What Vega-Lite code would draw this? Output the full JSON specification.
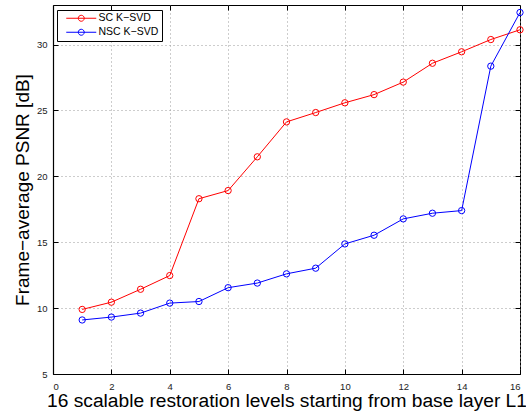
{
  "$schema": "https://vega.github.io/schema/vega-lite/v6.json",
  "autosize": {"type": "none"},
  "width": 467,
  "height": 369,
  "padding": {"left": 53, "top": 5, "right": 6, "bottom": 42},
  "background": "white",
  "config": {
    "font": "Liberation Sans",
    "view": {"stroke": "black", "strokeWidth": 1},
    "axis": {
      "domainColor": "black",
      "domainWidth": 1.2,
      "tickColor": "black",
      "tickSize": -5,
      "labelColor": "#222222",
      "labelFontSize": 9.5,
      "labelFont": "Liberation Sans",
      "titleFont": "Liberation Sans",
      "titleColor": "black",
      "titleFontWeight": "normal",
      "gridColor": "#9a9a9a",
      "gridDash": [1, 3],
      "gridWidth": 1,
      "gridOpacity": 1
    }
  },
  "data": {
    "values": [
      {"level": 1, "psnr": 9.9, "method": "SC K−SVD"},
      {"level": 2, "psnr": 10.45, "method": "SC K−SVD"},
      {"level": 3, "psnr": 11.43, "method": "SC K−SVD"},
      {"level": 4, "psnr": 12.47, "method": "SC K−SVD"},
      {"level": 5, "psnr": 18.3, "method": "SC K−SVD"},
      {"level": 6, "psnr": 18.92, "method": "SC K−SVD"},
      {"level": 7, "psnr": 21.48, "method": "SC K−SVD"},
      {"level": 8, "psnr": 24.13, "method": "SC K−SVD"},
      {"level": 9, "psnr": 24.84, "method": "SC K−SVD"},
      {"level": 10, "psnr": 25.58, "method": "SC K−SVD"},
      {"level": 11, "psnr": 26.2, "method": "SC K−SVD"},
      {"level": 12, "psnr": 27.15, "method": "SC K−SVD"},
      {"level": 13, "psnr": 28.58, "method": "SC K−SVD"},
      {"level": 14, "psnr": 29.45, "method": "SC K−SVD"},
      {"level": 15, "psnr": 30.38, "method": "SC K−SVD"},
      {"level": 16, "psnr": 31.12, "method": "SC K−SVD"},
      {"level": 1, "psnr": 9.1, "method": "NSC K−SVD"},
      {"level": 2, "psnr": 9.32, "method": "NSC K−SVD"},
      {"level": 3, "psnr": 9.62, "method": "NSC K−SVD"},
      {"level": 4, "psnr": 10.38, "method": "NSC K−SVD"},
      {"level": 5, "psnr": 10.5, "method": "NSC K−SVD"},
      {"level": 6, "psnr": 11.55, "method": "NSC K−SVD"},
      {"level": 7, "psnr": 11.9, "method": "NSC K−SVD"},
      {"level": 8, "psnr": 12.6, "method": "NSC K−SVD"},
      {"level": 9, "psnr": 13.03, "method": "NSC K−SVD"},
      {"level": 10, "psnr": 14.87, "method": "NSC K−SVD"},
      {"level": 11, "psnr": 15.53, "method": "NSC K−SVD"},
      {"level": 12, "psnr": 16.77, "method": "NSC K−SVD"},
      {"level": 13, "psnr": 17.2, "method": "NSC K−SVD"},
      {"level": 14, "psnr": 17.4, "method": "NSC K−SVD"},
      {"level": 15, "psnr": 28.36, "method": "NSC K−SVD"},
      {"level": 16, "psnr": 32.43, "method": "NSC K−SVD"}
    ]
  },
  "layer": [
    {
      "mark": {"type": "line", "strokeWidth": 1, "clip": false},
      "encoding": {
        "x": {
          "field": "level", "type": "quantitative",
          "scale": {"domain": [0, 16], "nice": false},
          "axis": {
            "orient": "bottom",
            "values": [0, 2, 4, 6, 8, 10, 12, 14, 16],
            "title": "16 scalable restoration levels starting from base layer L1",
            "titleFontSize": 19.2,
            "titleBaseline": "alphabetic",
            "titleY": 32.5,
            "labelPadding": 12,
            "grid": true
          }
        },
        "y": {
          "field": "psnr", "type": "quantitative",
          "scale": {"domain": [5, 33], "nice": false, "zero": false},
          "axis": {
            "orient": "left",
            "values": [5, 10, 15, 20, 25, 30],
            "title": "Frame−average PSNR [dB]",
            "titleFontSize": 19,
            "titleBaseline": "alphabetic",
            "titleX": -25,
            "labelPadding": 11,
            "grid": true
          }
        },
        "color": {
          "field": "method", "type": "nominal",
          "scale": {"domain": ["SC K−SVD", "NSC K−SVD"], "range": ["#ff0000", "#0000ff"]},
          "legend": {
            "title": null,
            "orient": "none",
            "legendX": 4,
            "legendY": 5,
            "symbolType": "M0,0L10,0M6,0A1,1,0,1,1,4,0A1,1,0,1,1,6,0",
            "symbolSize": 36,
            "symbolOffset": 1,
            "symbolStrokeWidth": 1,
            "symbolFillColor": "transparent",
            "labelFontSize": 10.5,
            "labelColor": "black",
            "labelOffset": 27,
            "padding": 3,
            "rowPadding": 3,
            "fillColor": "white",
            "strokeColor": "black"
          }
        }
      }
    },
    {
      "mark": {"type": "point", "filled": false, "size": 40, "strokeWidth": 1, "opacity": 1, "clip": false},
      "encoding": {
        "x": {
          "field": "level", "type": "quantitative",
          "axis": {"orient": "top", "values": [0, 2, 4, 6, 8, 10, 12, 14, 16], "labels": false, "title": null, "grid": false, "domain": false}
        },
        "y": {
          "field": "psnr", "type": "quantitative",
          "axis": {"orient": "right", "values": [5, 10, 15, 20, 25, 30], "labels": false, "title": null, "grid": false, "domain": false}
        },
        "color": {"field": "method", "type": "nominal"}
      }
    }
  ],
  "resolve": {"axis": {"x": "independent", "y": "independent"}}
}
